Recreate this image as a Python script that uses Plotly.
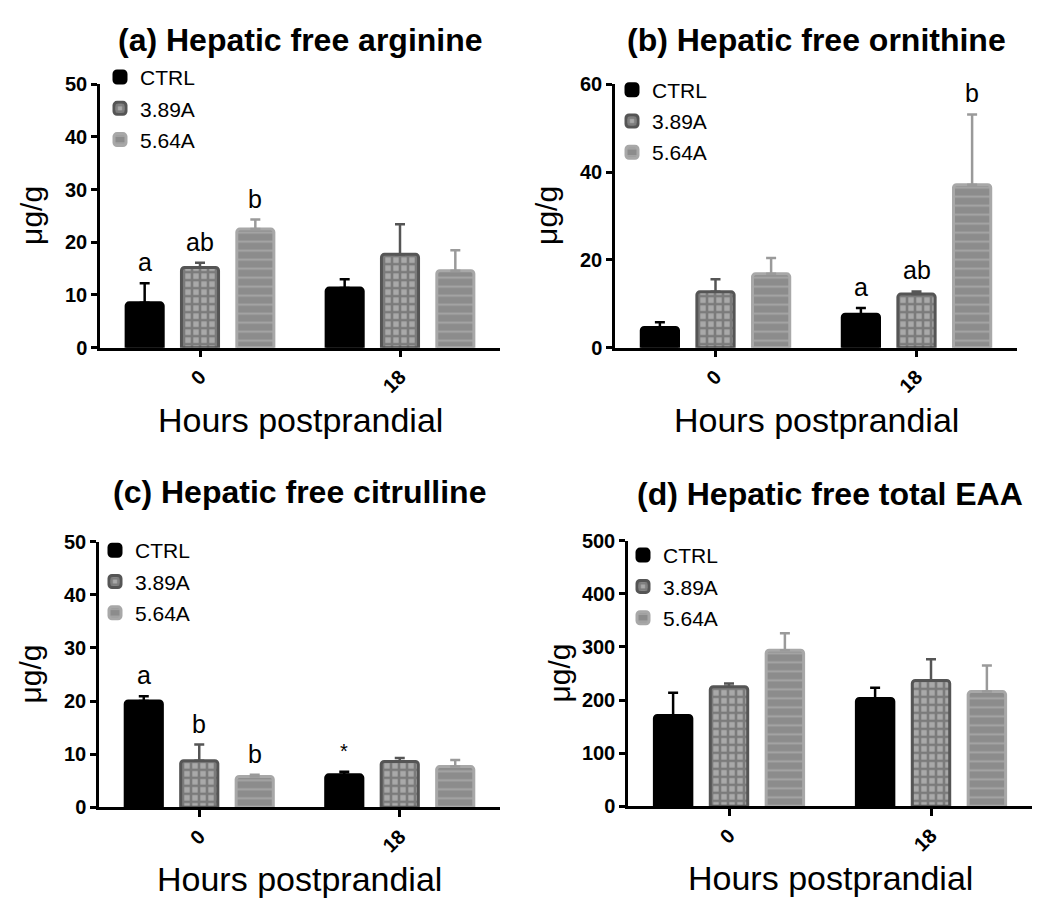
import plotly.graph_objects as go

# ---- data ----
hours = ["0", "18"]
groups = ["CTRL", "3.89A", "5.64A"]

# rows follow `groups`, columns follow `hours`
arginine_mean = [[8.5, 11.3], [15.2, 17.7], [22.5, 14.6]]
arginine_sd = [[3.7, 1.7], [0.9, 5.7], [1.8, 3.9]]
arginine_letters = [["a", ""], ["ab", ""], ["b", ""]]

ornithine_mean = [[4.6, 7.6], [12.7, 12.2], [16.8, 37.1]]
ornithine_sd = [[1.2, 1.4], [2.9, 0.6], [3.6, 16.0]]
ornithine_letters = [["", "a"], ["", "ab"], ["", "b"]]

citrulline_mean = [[20.0, 6.1], [8.75, 8.6], [5.8, 7.65]]
citrulline_sd = [[0.9, 0.6], [3.05, 0.65], [0.3, 1.25]]
citrulline_letters = [["a", "*"], ["b", ""], ["b", ""]]

eaa_mean = [[171, 203], [225, 237], [294, 216]]
eaa_sd = [[43, 20], [6, 40], [32, 49]]
eaa_letters = [["", ""], ["", ""], ["", ""]]

titles = ["(a) Hepatic free arginine", "(b) Hepatic free ornithine",
          "(c) Hepatic free citrulline", "(d) Hepatic free total EAA"]
y_max = [50, 60, 50, 500]
y_step = [10, 20, 10, 100]

# ---- styling ----
FONT = "Liberation Sans, Arial, sans-serif"
W, H = 1037, 907
BARGAP = 0.17
BARGROUPGAP = 0.33

bar_styles = [
    dict(color="#000000", line=dict(color="#000000", width=3), cornerradius=3),
    dict(color="#707070", line=dict(color="#555555", width=3), cornerradius=3,
         pattern=dict(shape="+", bgcolor="#a9a9a9", fgcolor="#4e4e4e",
                      size=8, solidity=0.55)),
    dict(color="#9a9a9a", line=dict(color="#a8a8a8", width=3), cornerradius=3,
         pattern=dict(shape="-", bgcolor="#8c8c8c", fgcolor="#bdbdbd",
                      size=9, solidity=0.22)),
]
err_colors = ["#000000", "#555555", "#9a9a9a"]

# plot areas in pixels: (left, right, top, bottom)
boxes = [(100, 500, 75, 345), (615, 1017, 75, 345),
         (99, 500, 544, 816), (628, 1032, 543, 815)]
# legend text anchor in pixels (left, top)
legend_pos = [(140, 47), (652, 60), (135, 532), (663, 537)]
title_y = [30, 30, 493, 495]

panels = [
    (arginine_mean, arginine_sd, arginine_letters),
    (ornithine_mean, ornithine_sd, ornithine_letters),
    (citrulline_mean, citrulline_sd, citrulline_letters),
    (eaa_mean, eaa_sd, eaa_letters),
]

fig = go.Figure()
annotations = []
layout = {}

for p, (means, sds, letters) in enumerate(panels):
    sfx = "" if p == 0 else str(p + 1)
    xa, ya = "x" + sfx, "y" + sfx
    leg = "legend" + sfx
    for g, name in enumerate(groups):
        fig.add_trace(go.Bar(
            x=hours, y=means[g], name=name,
            xaxis=xa, yaxis=ya, legend=leg,
            legendgroup=f"{p}-{name}",
            marker=bar_styles[g],
            error_y=dict(type="data", array=sds[g], arrayminus=[0] * len(hours),
                         symmetric=False, color=err_colors[g],
                         thickness=2.5, width=5),
            offsetgroup=str(g),
        ))
        slot = (1 - BARGAP) / len(groups)
        for h in range(len(hours)):
            if letters[g][h]:
                annotations.append(dict(
                    x=h + slot * (g - 1), y=means[g][h] + sds[g][h],
                    xref=xa, yref=ya, text=letters[g][h], showarrow=False,
                    yanchor="middle", yshift=21,
                    font=dict(family=FONT, size=25 if letters[g][h] != "*" else 20,
                              color="black")))

    l, r, t, b = boxes[p]
    dom_x = [l / W, r / W]
    dom_y = [1 - b / H, 1 - t / H]
    layout["xaxis" + sfx] = dict(
        domain=dom_x, anchor=ya, type="category", range=[-0.5, 1.5],
        showline=True, linecolor="black", linewidth=2.5,
        ticks="outside", ticklen=7, tickwidth=2.5, tickcolor="black",
        tickangle=-45, showgrid=False, zeroline=False,
        tickfont=dict(family=FONT, size=20, color="black", weight="bold"))
    layout["yaxis" + sfx] = dict(
        domain=dom_y, anchor=xa, range=[0, y_max[p]], dtick=y_step[p],
        showline=True, linecolor="black", linewidth=2.5,
        ticks="outside", ticklen=6, tickwidth=2.5, tickcolor="black",
        showgrid=False, zeroline=False,
        tickfont=dict(family=FONT, size=20, color="black", weight="bold"))
    lx, ly = legend_pos[p]
    layout[leg] = dict(
        x=(lx - 40) / W, y=1 - ly / H, xanchor="left", yanchor="top",
        bgcolor="rgba(0,0,0,0)", tracegroupgap=1,
        font=dict(family=FONT, size=21, color="black"))

    # panel title
    annotations.append(dict(
        x=(l + r) / 2 / W, y=1 - title_y[p] / H, xref="paper", yref="paper",
        text=f"<b>{titles[p]}</b>", showarrow=False,
        xanchor="center", yanchor="middle",
        font=dict(family=FONT, size=32, color="black")))
    # y-axis title
    annotations.append(dict(
        x=(l - 68) / W, y=1 - (t + b) / 2 / H, xref="paper", yref="paper",
        text="μg/g", textangle=-90, showarrow=False,
        xanchor="center", yanchor="middle",
        font=dict(family=FONT, size=30, color="black")))
    # x-axis title
    annotations.append(dict(
        x=(l + r) / 2 / W, y=1 - (b + 74) / H, xref="paper", yref="paper",
        text="Hours postprandial", showarrow=False,
        xanchor="center", yanchor="middle",
        font=dict(family=FONT, size=34, color="black")))

fig.update_layout(
    width=W, height=H,
    margin=dict(l=0, r=0, t=0, b=0),
    paper_bgcolor="white", plot_bgcolor="white",
    barmode="group", bargap=BARGAP, bargroupgap=BARGROUPGAP,
    annotations=annotations,
    **layout,
)

fig.write_html("out.html", config={"displayModeBar": False})
